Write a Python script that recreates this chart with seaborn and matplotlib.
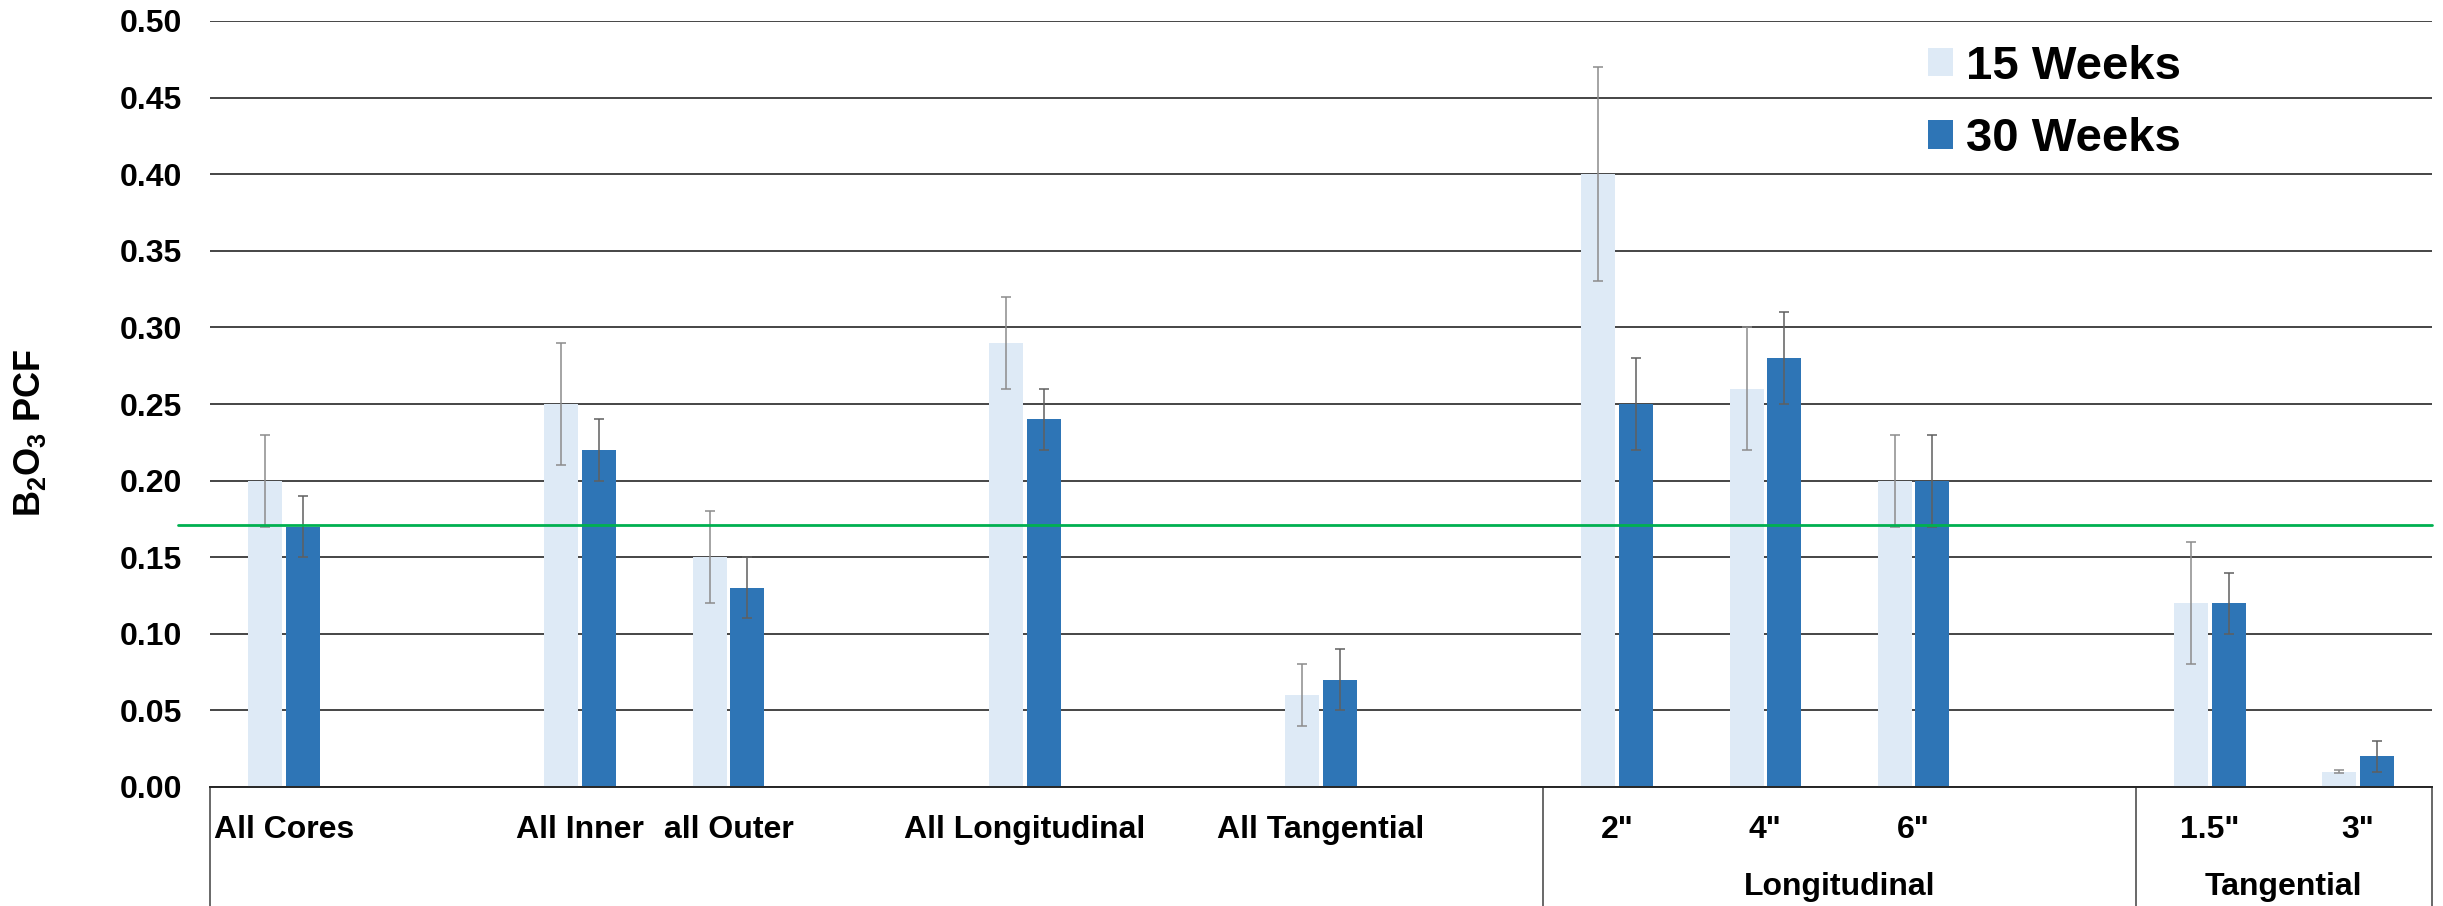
import matplotlib
matplotlib.use("Agg")
import matplotlib.pyplot as plt
import matplotlib.transforms as mtransforms
from matplotlib.patches import Patch
import pandas as pd
import seaborn as sns


# bar categories, left to right
categories = ["All Cores", "All Inner", "all Outer", "All Longitudinal", "All Tangential",
              '2"', '4"', '6"', '1.5"', '3"']
# an empty slot follows these categories
gap_after = ["All Cores", "all Outer", "All Longitudinal", "All Tangential", '6"']
# second-level labels and their member categories
groups = {"Longitudinal": ['2"', '4"', '6"'], "Tangential": ['1.5"', '3"']}

series = ["15 Weeks", "30 Weeks"]
weeks15 = [0.20, 0.25, 0.15, 0.29, 0.06, 0.40, 0.26, 0.20, 0.12, 0.01]
weeks30 = [0.17, 0.22, 0.13, 0.24, 0.07, 0.25, 0.28, 0.20, 0.12, 0.02]
err15 = [0.03, 0.04, 0.03, 0.03, 0.02, 0.07, 0.04, 0.03, 0.04, 0.001]
err30 = [0.02, 0.02, 0.02, 0.02, 0.02, 0.03, 0.03, 0.03, 0.02, 0.01]
target_pcf = 0.171

colors = ["#DEEAF6", "#2E75B6"]
err_colors = ["#8C8C8C", "#5F5F5F"]


def build_order():
    order = []
    for i, cat in enumerate(categories):
        order.append(cat)
        if cat in gap_after:
            order.append(" " * (i + 1))
    return order


def main():
    sns.set_style("white")
    plt.rcParams["font.family"] = ["Liberation Sans", "DejaVu Sans"]
    plt.rcParams["font.weight"] = "bold"
    plt.rcParams["text.color"] = "black"
    plt.rcParams["xtick.color"] = "black"
    plt.rcParams["ytick.color"] = "black"
    plt.rcParams["mathtext.fontset"] = "custom"
    plt.rcParams["mathtext.rm"] = "Liberation Sans:bold"
    plt.rcParams["mathtext.bf"] = "Liberation Sans:bold"

    order = build_order()
    df = pd.DataFrame({
        "category": categories * 2,
        "series": [series[0]] * len(categories) + [series[1]] * len(categories),
        "value": weeks15 + weeks30,
        "err": err15 + err30,
    })

    W, H = 2443, 906
    fig = plt.figure(figsize=(W / 100, H / 100), dpi=100)
    ax = fig.add_axes([210 / W, (H - 787) / H, (2432 - 210) / W, (787 - 21) / H])

    sns.barplot(data=df, x="category", y="value", hue="series", order=order,
                hue_order=series, palette=colors, saturation=1, width=0.51, gap=0.1,
                errorbar=None, legend=False, linewidth=0, ax=ax, zorder=2)

    # error bars on top of the drawn bars
    lookup = df.set_index(["category", "series"])["err"]
    for name, ecol, cont in zip(series, err_colors, ax.containers):
        xs, ys, es = [], [], []
        for bar in cont:
            xc = bar.get_x() + bar.get_width() / 2
            cat = order[int(round(xc))]
            xs.append(xc)
            ys.append(bar.get_height())
            es.append(lookup[(cat, name)])
        ax.errorbar(xs, ys, yerr=es, fmt="none", ecolor=ecol, elinewidth=1.1,
                    capsize=3.6, capthick=1.1, zorder=3)

    ax.set_xlim(-0.5, len(order) - 0.5)
    ax.set_ylim(0, 0.5)
    ax.set_yticks([i * 0.05 for i in range(11)])
    ax.set_yticklabels([f"{i * 0.05:.2f}" for i in range(11)])
    ax.yaxis.grid(True, color="#262626", linewidth=1.2)
    ax.set_axisbelow(True)
    for s in ["top", "right", "left"]:
        ax.spines[s].set_visible(False)
    ax.spines["bottom"].set_color("#262626")
    ax.spines["bottom"].set_linewidth(1.4)
    ax.tick_params(axis="both", length=0, labelsize=23, pad=20)
    ax.set_xlabel("")
    ax.set_ylabel("")

    # reference line
    trans_h = mtransforms.blended_transform_factory(ax.transAxes, ax.transData)
    ax.plot([-0.0144, 1.0], [target_pcf, target_pcf], color="#00B050", lw=2.0,
            transform=trans_h, clip_on=False, zorder=4)

    # group separators and second-level labels
    trans_v = mtransforms.blended_transform_factory(ax.transData, ax.transAxes)
    bounds = [-0.5]
    starts = [order.index(m[0]) - 0.5 for m in groups.values()]
    bounds += starts + [len(order) - 0.5]
    for b in bounds:
        ax.plot([b, b], [0, -0.3], color="#404040", lw=1.1, transform=trans_v,
                clip_on=False)
    ends = starts[1:] + [len(order) - 0.5]
    for (label, _), s, e in zip(groups.items(), starts, ends):
        ax.text((s + e) / 2, (787 - 895) / 766, label, transform=trans_v,
                ha="center", va="baseline", fontsize=23, fontweight="bold")

    fig.text(30 / W, 1 - 433 / H, r"B$_{2}$O$_{3}$ PCF", rotation=90,
             ha="center", va="center", fontsize=26, fontweight="bold")

    handles = [Patch(facecolor=c, edgecolor="none") for c in colors]
    fig.legend(handles, series, loc="center left",
               bbox_to_anchor=(1928 / W, 1 - 103 / H), bbox_transform=fig.transFigure,
               frameon=False, fontsize=34, handlelength=0.52, handleheight=0.55,
               handletextpad=0.28, labelspacing=0.6, borderpad=0, borderaxespad=0)

    fig.savefig("out.png", dpi=100)
    plt.close(fig)


if __name__ == "__main__":
    main()
